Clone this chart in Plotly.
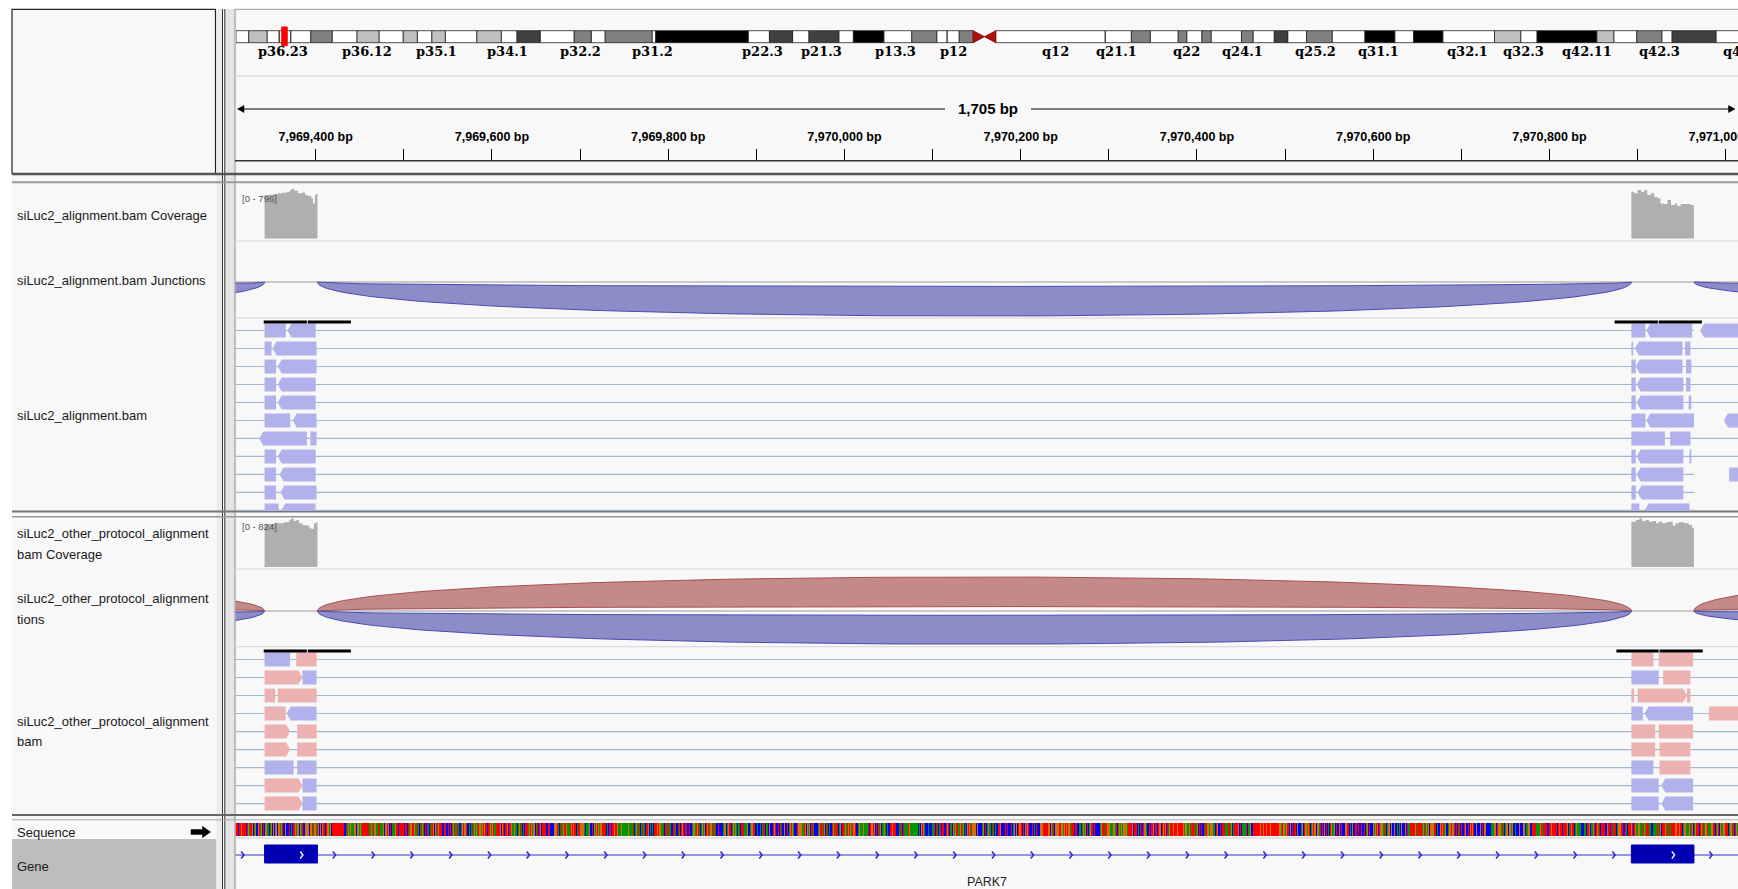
import numpy as np
import plotly.graph_objects as go

W, H = 1738, 889

# ------------------------------------------------------------------ data
VIEW_START = 7969309
VIEW_END = 7971014

BAND_EDGES_MB = [0, 2.1, 5.1, 7.1, 9.0, 12.3, 15.8, 19.9, 23.5, 27.5,
                 29.8, 32.2, 34.4, 39.6, 43.6, 46.2, 50.0, 55.6, 58.4, 60.7,
                 68.4, 69.0, 84.2, 87.7, 91.5, 94.2, 99.1, 101.5, 106.5, 111.1,
                 115.2, 116.9, 118.9, 121.2, 124.9, 142.9, 147.2, 150.3, 154.9, 156.3,
                 158.8, 160.3, 165.3, 167.2, 170.7, 172.9, 176.0, 180.2, 185.6, 190.5,
                 193.6, 198.4, 206.9, 211.2, 213.9, 223.7, 226.5, 230.3, 234.4, 236.1,
                 243.3, 248.9]
BAND_STAINS = ["gneg", "gpos25", "gneg", "gneg", "gneg", "gpos50", "gneg", "gpos25", "gneg", "gpos25",
               "gneg", "gpos25", "gneg", "gpos25", "gneg", "gpos75", "gneg", "gpos50", "gneg", "gpos50",
               "gneg", "gpos100", "gneg", "gpos75", "gneg", "gpos75", "gneg", "gpos100", "gneg", "gpos50",
               "gneg", "gneg", "gpos50", "acen", "gneg", "gneg", "gpos50", "gneg", "gpos50", "gneg",
               "gpos50", "gneg", "gpos50", "gneg", "gpos75", "gneg", "gpos50", "gneg", "gpos100", "gneg",
               "gpos100", "gneg", "gpos25", "gneg", "gpos100", "gpos25", "gneg", "gpos50", "gneg", "gpos75",
               "gneg"]
BAND_LABELS = ["p36.23", "p36.12", "p35.1", "p34.1", "p32.2", "p31.2", "p22.3", "p21.3", "p13.3", "p12",
               "q12", "q21.1", "q22", "q24.1", "q25.2", "q31.1", "q32.1", "q32.3", "q42.11", "q42.3", "q44"]
BAND_LABEL_MB = [7.8, 21.5, 32.9, 44.7, 56.7, 68.5, 86.6, 96.2, 108.5, 118.0,
                 134.7, 144.8, 156.3, 165.5, 177.5, 187.8, 202.5, 211.7, 222.1, 234.1, 246.6]

# coverage tracks (position, depth); each value holds until next position
COV1_MAX = 796
COV1_LEFT_POS = [7969342, 7969347, 7969352, 7969357, 7969362, 7969367, 7969371, 7969373, 7969376,
                 7969380, 7969384, 7969388, 7969391, 7969395, 7969397, 7969399, 7969401, 7969402]
COV1_LEFT_VAL = [695, 700, 711, 722, 732, 748, 775, 796, 764, 722, 737, 695, 679, 642, 562, 695, 722, 722]
COV1_RIGHT_POS = [7970893, 7970896, 7970900, 7970904, 7970908, 7970911, 7970915, 7970919, 7970923,
                  7970926, 7970930, 7970934, 7970938, 7970942, 7970945, 7970949, 7970955, 7970960, 7970964]
COV1_RIGHT_VAL = [748, 722, 775, 748, 775, 695, 722, 658, 642, 562, 552, 615, 536, 562, 520, 552, 552, 536, 536]

COV2_MAX = 824
COV2_LEFT_POS = [7969342, 7969347, 7969353, 7969359, 7969364, 7969370, 7969372, 7969375, 7969378,
                 7969381, 7969385, 7969389, 7969393, 7969395, 7969398, 7969401, 7969402]
COV2_LEFT_VAL = [722, 722, 739, 739, 756, 796, 824, 779, 796, 739, 711, 700, 655, 643, 739, 767, 767]
COV2_RIGHT_POS = [7970893, 7970898, 7970902, 7970905, 7970909, 7970913, 7970917, 7970921, 7970924,
                  7970928, 7970932, 7970936, 7970940, 7970943, 7970947, 7970953, 7970958, 7970962, 7970964]
COV2_RIGHT_VAL = [767, 796, 824, 779, 796, 767, 779, 739, 767, 739, 756, 767, 700, 739, 756, 739, 711, 655, 655]

# splice junctions: (start, end, strand, depth)
JUNC1 = [(7968400, 7969342, "-", 600), (7969402, 7970893, "-", 760), (7970964, 7972600, "-", 590)]
JUNC2 = [(7968400, 7969342, "+", 300), (7968400, 7969342, "-", 290),
         (7969402, 7970893, "+", 410), (7969402, 7970893, "-", 400),
         (7970964, 7971900, "+", 390), (7970964, 7972600, "-", 280)]

# alignments: one list per row of (start, end, code) ; code = colour letter + optional arrow
ALN1_ROWS = [
    [(7969342, 7969366, "b"), (7969368, 7969400, "b<"), (7970893, 7970909, "b"), (7970910, 7970962, "b<"), (7970971, 7971040, "b<")],
    [(7969342, 7969350, "b"), (7969351, 7969401, "b<"), (7970893, 7970895, "b"), (7970897, 7970951, "b<"), (7970954, 7970960, "b")],
    [(7969342, 7969355, "b"), (7969357, 7969401, "b<"), (7970893, 7970898, "b"), (7970898, 7970951, "b<"), (7970955, 7970961, "b")],
    [(7969342, 7969355, "b"), (7969357, 7969400, "b<"), (7970893, 7970898, "b"), (7970899, 7970952, "b<"), (7970955, 7970960, "b")],
    [(7969342, 7969355, "b"), (7969357, 7969400, "b<"), (7970893, 7970898, "b"), (7970899, 7970952, "b<"), (7970958, 7970961, "b")],
    [(7969342, 7969371, "b"), (7969374, 7969401, "b<"), (7970893, 7970909, "b"), (7970910, 7970964, "b<"), (7970998, 7971040, "b<")],
    [(7969336, 7969390, "b<"), (7969394, 7969401, "b"), (7970893, 7970931, "b"), (7970937, 7970960, "b")],
    [(7969342, 7969355, "b"), (7969357, 7969400, "b<"), (7970893, 7970898, "b"), (7970899, 7970952, "b<"), (7970959, 7970961, "b")],
    [(7969342, 7969355, "b"), (7969359, 7969400, "b<"), (7970893, 7970898, "b"), (7970899, 7970952, "b<"), (7971004, 7971040, "b")],
    [(7969342, 7969355, "b"), (7969360, 7969401, "b<"), (7970893, 7970898, "b"), (7970900, 7970952, "b<")],
    [(7969342, 7969358, "b"), (7969361, 7969400, "b<"), (7970893, 7970902, "b"), (7970908, 7970959, "b<")],
]
ALN1_LINES = [(7969250, 7970964), (7969250, 7971040), (7969250, 7971040), (7969250, 7971040),
              (7969250, 7971040), (7969250, 7970964), (7969250, 7971040), (7969250, 7971040),
              (7969250, 7970964), (7969250, 7970964), (7969250, 7970964)]

ALN2_ROWS = [
    [(7969342, 7969371, "b"), (7969378, 7969401, "p"), (7970893, 7970918, "p"), (7970924, 7970963, "p")],
    [(7969342, 7969385, "p>"), (7969385, 7969401, "b"), (7970893, 7970924, "b"), (7970929, 7970960, "p")],
    [(7969342, 7969354, "p"), (7969357, 7969401, "p"), (7970893, 7970896, "p"), (7970900, 7970956, "p>"), (7970956, 7970960, "p")],
    [(7969342, 7969366, "p"), (7969367, 7969401, "b<"), (7970893, 7970906, "b"), (7970908, 7970963, "b<"), (7970981, 7971040, "p")],
    [(7969342, 7969371, "p>"), (7969379, 7969401, "p"), (7970893, 7970920, "p"), (7970924, 7970963, "p")],
    [(7969342, 7969371, "p>"), (7969379, 7969401, "p"), (7970893, 7970920, "p"), (7970925, 7970960, "p")],
    [(7969342, 7969375, "b"), (7969379, 7969401, "b"), (7970893, 7970918, "b"), (7970925, 7970960, "p")],
    [(7969342, 7969385, "p>"), (7969385, 7969401, "b"), (7970893, 7970924, "b"), (7970927, 7970963, "b<")],
    [(7969342, 7969385, "p>"), (7969385, 7969401, "b"), (7970893, 7970924, "b"), (7970927, 7970963, "b<")],
]
ALN2_LINES = [(7969250, 7971040)] * 9

DOWNSAMPLED1 = [(7969341, 7969390), (7969391, 7969440), (7970874, 7970923), (7970924, 7970973)]
DOWNSAMPLED2 = [(7969341, 7969390), (7969391, 7969440), (7970876, 7970924), (7970925, 7970974)]

GENE_NAME = "PARK7"
GENE_EXONS = [(7969342, 7969402), (7970893, 7970964)]

SEQ_START = 7969309
SEQ_CHUNKS = [
    "TTTCTTGTCT TTCTGACTTG CAGCCGGTAG CTCCGGAACA GCTGCGGCGG AAGTCCGCTC CTCACTTTGA GGCGAGTCCG GGGCGGGTAG GAATGCGCGT",
    "TTCTGGAGCT TTTTTTTTTT TTTCCTTAGA GAAAGGGCGG AGGATTTTTT TTAAGATGGA AATTAAAGCC GGTGCTTCAA AGTTCGTTTT TCTTTCTAGG",
    "TCTGAATACA TTGACTCTTA CTATGCGTAT GTTTCCCTTC CTCCTCAGTA ATAACCAGTG TGTCCACATG AGAGATGAGA GTGTTCCTTG AGTACATTTT",
    "GCAGTCTTGC TCTGAAGAAT CAGTACACTT TTAGTGCAGG CATCTTGCTT TTCTCTTCCC CAGGGTACTA CAGTTGAAGA TGTGTTACAT TGGGGAACAA",
    "AGCACTCGAG TGTAGGTTTT CCACTTCTCT GTTGAAATGA AAAAAGGAAA ATCAGGATAC ATGAACTTGC ACCACTTTGG TGGAAACATA TTAACCTTTA",
    "CCTAGCTGTC TTCCCTCCAG GGATGTACAA GAGCTGTAGG GTAATCACTC CCCAGGGCAG TTCCAGAGAC ACACTTTAAA TGCCAGGTTT CCACCACAAT",
    "TCAACAGCCC TGTCTCTCAT CCAGCCTCAG ATGACCCTGC GGGAATGTCG AGCTTAGCCC CAGTGTATGC ATGCACCTGT ATTTCAGCTG TAGATGTGGA",
    "TGGTCCCAGA AAGACAAATC TGGCTGCTCA TAGCAAGACA ACCTTGTTAT CCCATACCTA AAATGAAAAA AAAAACACGT GAGCCCACCC TAATCTACAA",
    "TCTTCCTGGT CAACGTAGTT AAGTCAGCAC GTGGATGGGG CCGCCCCAGG CTCAGAAGCT ACACCTATGC CCCTCCTCCC TCATGCGCTG GCTCTCGTGG",
    "TCCCTCACAT CCCGGGGTTT TTGGCTGATC GGGAGTTGGA GTTGTGGATT CTCTTCCACA CAGAGCTGCA GTTCTTCCCC CAGTTTTATG GGAAAAGGAT",
    "GCAGAGAGGC GGATTTTTGC TTTCACCTCC TGGAGCCTCT TGCCTTCTGG CCTGTGCTAG GTTTGTTTTG TTTTTGAAGG AAGTATTTAT AGCATCTCCT",
    "AGTGGAGGGA AACTGCCTGC TTTAAATATA GCATTATTGC TCATAAATCA AGGCCTTTTT GTTGTTGTTG GTTTGTTTTT TTTTGAGATG GAGTCTCGCT",
    "CTGTCGCCCA GGCTGGAGTG CAGTGGCGCG ATCTCGGCTC ACTGCAAGCT CCGCCTCCCG GGTTCACGCC ATTCTCCTGC CTCAGCCTCC CGAGTAGCTG",
    "GGACTACAGG CGCCCGCCAC CACGCCCGGC TAATTTTTTG TATTTTTAGT AGAGACGGGG TTTCACCGTG TTAGCCAGGA TGGTCTCGAT CTCCTGACCT",
    "CGTGATCCGC CCGCCTCGGC CTCCCAAAGT GCTGGGATTA CAGGCGTGAG CCACCGCGCC CGGCCAAGGC CTTTTTAAAA AGTATTTTAC CTTGTTTGTT",
    "CTGTTTCTTT TGCAGTGTTC AGGAAAACCC TAACTTGCAG AGTCTGATTC TTTTCCCGTT CTTACTTCAG GGCTTCCTAC TCTTGTCTGT AAGGAAATTG",
    "ATTTAATCCA AAATGATGCT TTGAATATAT TTTTGGTTGT TTCAGGAAAA GTAGCAGTTT TCTGAGTAGG TAACAGGTTC AGCTCGAAGG TTTTCAGGTA",
    "ACTGATTTGC CAGGTTTACC TTGCTAGGGG TTAGTGTAGA TGTCTGTGTT TTTTGTGGAG GTCAGTTGTC CCCAGCTGTT TCAGCAGCCT CAGTAGATAA",
]

TRACK_NAMES = [
    ("siLuc2_alignment.bam Coverage", 215.7),
    ("siLuc2_alignment.bam Junctions", 280.0),
    ("siLuc2_alignment.bam", 416.0),
    ("siLuc2_other_protocol_alignment", 533.0),
    ("bam Coverage", 554.3),
    ("siLuc2_other_protocol_alignment", 598.3),
    ("tions", 619.0),
    ("siLuc2_other_protocol_alignment", 721.0),
    ("bam", 741.7),
    ("Sequence", 832.0),
    ("Gene", 866.0),
]

# ------------------------------------------------------------------ helpers
def px(x):
    return x / W


def py(y):
    return 1 - y / H


def dom(top, bot):
    return [1 - bot / H, 1 - top / H]


READ_COL = {"b": "rgb(177,177,236)", "p": "rgb(236,177,177)"}
STAIN_COL = {"gneg": "#ffffff", "gpos25": "#c0c0c0", "gpos50": "#808080",
             "gpos75": "#404040", "gpos100": "#000000"}
SANS = "Liberation Sans, Arial, sans-serif"

fig = go.Figure()

# ------------------------------------------------------------------ ideogram (x3 / y9)
IDEO_TOP, IDEO_BOT = 5.7, 17.7
for stain, col in STAIN_COL.items():
    xs, ys = [], []
    for s, e, st in zip(BAND_EDGES_MB[:-1], BAND_EDGES_MB[1:], BAND_STAINS):
        if st == stain:
            xs += [s, e, e, s, s, None]
            ys += [IDEO_TOP, IDEO_TOP, IDEO_BOT, IDEO_BOT, IDEO_TOP, None]
    fig.add_trace(go.Scatter(x=xs, y=ys, xaxis="x3", yaxis="y9", mode="lines", fill="toself",
                             fillcolor=col, line=dict(color="#222222", width=0.8), hoverinfo="skip"))
cx, cy = [], []
for s, e, st in zip(BAND_EDGES_MB[:-1], BAND_EDGES_MB[1:], BAND_STAINS):
    if st == "acen":
        m = (s + e) / 2
        mid = (IDEO_TOP + IDEO_BOT) / 2
        cx += [s, s, m, s, None, e, e, m, e, None]
        cy += [IDEO_TOP, IDEO_BOT, mid, IDEO_TOP, None, IDEO_TOP, IDEO_BOT, mid, IDEO_TOP, None]
fig.add_trace(go.Scatter(x=cx, y=cy, xaxis="x3", yaxis="y9", mode="lines", fill="toself",
                         fillcolor="#b00d0d", line=dict(color="#8a0000", width=0.8), hoverinfo="skip"))
locus_mb = (VIEW_START + VIEW_END) / 2 / 1e6
fig.add_trace(go.Scatter(x=[locus_mb - 0.45, locus_mb + 0.45, locus_mb + 0.45, locus_mb - 0.45, locus_mb - 0.45],
                         y=[2, 2, 20.7, 20.7, 2], xaxis="x3", yaxis="y9", mode="lines", fill="toself",
                         fillcolor="#ff0000", line=dict(color="#ff0000", width=1), hoverinfo="skip"))

# ------------------------------------------------------------------ ruler dummy (x2 / y10)
fig.add_trace(go.Scatter(x=[VIEW_START], y=[0], xaxis="x2", yaxis="y10", mode="markers",
                         marker=dict(opacity=0), hoverinfo="skip"))


# ------------------------------------------------------------------ coverage
def cov_trace(pos, val, yaxis):
    xs, ys = [pos[0]], [0]
    for i in range(len(pos) - 1):
        xs += [pos[i], pos[i + 1]]
        ys += [val[i], val[i]]
    xs += [pos[-1], pos[0]]
    ys += [0, 0]
    return go.Scatter(x=xs, y=ys, xaxis="x", yaxis=yaxis, mode="lines", fill="toself",
                      fillcolor="rgb(175,175,175)", line=dict(width=0), hoverinfo="skip")


fig.add_trace(cov_trace(COV1_LEFT_POS, COV1_LEFT_VAL, "y"))
fig.add_trace(cov_trace(COV1_RIGHT_POS, COV1_RIGHT_VAL, "y"))
fig.add_trace(cov_trace(COV2_LEFT_POS, COV2_LEFT_VAL, "y4"))
fig.add_trace(cov_trace(COV2_RIGHT_POS, COV2_RIGHT_VAL, "y4"))


# ------------------------------------------------------------------ junctions
def add_junctions(juncs, yaxis, full_h=34.0, inner_frac=0.13):
    dmax = max(j[3] for j in juncs)
    for s, e, strand, depth in juncs:
        hgt = full_h * depth / dmax
        t = np.linspace(0, 1, 120)
        xs = s + (e - s) * (3 * t ** 2 - 2 * t ** 3)
        prof = 4 * t * (1 - t)
        sign = 1 if strand == "+" else -1
        outer = sign * hgt * prof
        inner = sign * hgt * inner_frac * prof
        x = np.concatenate([xs, xs[::-1]])
        y = np.concatenate([outer, inner[::-1]])
        if strand == "+":
            fc, lc = "rgb(196,138,138)", "rgb(165,80,80)"
        else:
            fc, lc = "rgb(140,140,200)", "rgb(75,75,175)"
        fig.add_trace(go.Scatter(x=x, y=y, xaxis="x", yaxis=yaxis, mode="lines", fill="toself",
                                 fillcolor=fc, line=dict(color=lc, width=1), hoverinfo="skip"))


add_junctions(JUNC1, "y2")
add_junctions(JUNC2, "y5")


# ------------------------------------------------------------------ alignments
def block_poly(s, e, row, arrow, half=0.39, aw=4.5):
    top, bot = row - half, row + half
    if arrow == "<":
        return [s, s + aw, e, e, s + aw, s], [row, top, top, bot, bot, row]
    if arrow == ">":
        return [s, e - aw, e, e - aw, s, s], [top, top, row, bot, bot, top]
    return [s, e, e, s, s], [top, top, bot, bot, top]


def add_alignments(rows, lines, downs, yaxis):
    lx, ly = [], []
    for r, (a, b) in enumerate(lines):
        lx += [a, b, None]
        ly += [r, r, None]
    fig.add_trace(go.Scatter(x=lx, y=ly, xaxis="x", yaxis=yaxis, mode="lines",
                             line=dict(color="#a3b8cd", width=1.2), hoverinfo="skip"))
    for key, col in READ_COL.items():
        xs, ys = [], []
        for r, blocks in enumerate(rows):
            for s, e, code in blocks:
                if code[0] != key:
                    continue
                bx, by = block_poly(s, e, r, code[1:])
                xs += bx + [None]
                ys += by + [None]
        if xs:
            fig.add_trace(go.Scatter(x=xs, y=ys, xaxis="x", yaxis=yaxis, mode="lines", fill="toself",
                                     fillcolor=col, line=dict(width=0), hoverinfo="skip"))
    dx, dy = [], []
    for s, e in downs:
        dx += [s, e, None]
        dy += [-0.47, -0.47, None]
    fig.add_trace(go.Scatter(x=dx, y=dy, xaxis="x", yaxis=yaxis, mode="lines",
                             line=dict(color="black", width=3), hoverinfo="skip"))


add_alignments(ALN1_ROWS, ALN1_LINES, DOWNSAMPLED1, "y3")
add_alignments(ALN2_ROWS, ALN2_LINES, DOWNSAMPLED2, "y6")

# ------------------------------------------------------------------ sequence
seq = "".join("".join(c.split()) for c in SEQ_CHUNKS)
code = {"A": 0, "C": 1, "G": 2, "T": 3}
fig.add_trace(go.Heatmap(
    z=[[code[b] for b in seq]], x=[SEQ_START + i + 0.5 for i in range(len(seq))], y=[0],
    xaxis="x", yaxis="y7", zmin=0, zmax=3, showscale=False, hoverinfo="skip",
    colorscale=[[0, "rgb(0,150,0)"], [0.25, "rgb(0,150,0)"], [0.25, "rgb(0,0,255)"], [0.5, "rgb(0,0,255)"],
                [0.5, "rgb(209,113,5)"], [0.75, "rgb(209,113,5)"], [0.75, "rgb(255,0,0)"], [1, "rgb(255,0,0)"]]))

# ------------------------------------------------------------------ gene
GENE_COL = "rgb(0,0,178)"
fig.add_trace(go.Scatter(x=[VIEW_START - 50, VIEW_END + 50], y=[0, 0], xaxis="x", yaxis="y8", mode="lines",
                         line=dict(color="rgb(50,50,200)", width=1.2), hoverinfo="skip"))
chev = []
first_s = GENE_EXONS[0][0]
p = first_s - 25
while p > VIEW_START - 50:
    chev.append(p)
    p -= 44
for (s0, e0), (s1, e1) in zip(GENE_EXONS[:-1], GENE_EXONS[1:]):
    p = e0 + 19
    while p < s1 - 5:
        chev.append(p)
        p += 44
p = GENE_EXONS[-1][1] + 19
while p < VIEW_END + 50:
    chev.append(p)
    p += 44
chx, chy = [], []
for c in chev:
    chx += [c - 1.6, c + 1.6, c - 1.6, None]
    chy += [3.5, 0, -3.5, None]
fig.add_trace(go.Scatter(x=chx, y=chy, xaxis="x", yaxis="y8", mode="lines",
                         line=dict(color="rgb(40,40,210)", width=1.5), hoverinfo="skip"))
ex, ey = [], []
for s, e in GENE_EXONS:
    ex += [s, e, e, s, s, None]
    ey += [10, 10, -8, -8, 10, None]
fig.add_trace(go.Scatter(x=ex, y=ey, xaxis="x", yaxis="y8", mode="lines", fill="toself",
                         fillcolor=GENE_COL, line=dict(color=GENE_COL, width=1), hoverinfo="skip"))
wx, wy = [], []
for s, e in GENE_EXONS:
    c = (s + e) / 2 + 12
    wx += [c - 1.6, c + 1.6, c - 1.6, None]
    wy += [3.5, 0, -3.5, None]
fig.add_trace(go.Scatter(x=wx, y=wy, xaxis="x", yaxis="y8", mode="lines",
                         line=dict(color="white", width=1.3), hoverinfo="skip"))

# ------------------------------------------------------------------ frame shapes
shapes = []


def rect(x0, y0, x1, y1, fill, lc=None, lw=0):
    shapes.append(dict(type="rect", xref="paper", yref="paper", x0=px(x0), x1=px(x1), y0=py(y1), y1=py(y0),
                       fillcolor=fill, line=dict(color=lc or fill, width=lw), layer="below"))


def hline(y, x0, x1, col, w=1):
    shapes.append(dict(type="line", xref="paper", yref="paper", x0=px(x0), x1=px(x1), y0=py(y), y1=py(y),
                       line=dict(color=col, width=w), layer="below"))


def vline(x, y0, y1, col, w=1):
    shapes.append(dict(type="line", xref="paper", yref="paper", x0=px(x), x1=px(x), y0=py(y0), y1=py(y1),
                       line=dict(color=col, width=w), layer="below"))


rect(12, 9, 1738, 889, "#f8f8f8")
rect(12, 9.3, 215.5, 173.5, "#f9f9f9", "#222222", 1.2)
rect(12, 839, 216.5, 889, "#bdbdbd")
rect(216.5, 9, 222, 889, "#ececec")
rect(225, 9, 234.5, 889, "#e4e4e4")
vline(222.5, 9, 889, "#333333", 1)
vline(224.8, 9, 889, "#333333", 1)
vline(235, 9, 889, "#8a8a8a", 1)
hline(9.3, 235, 1738, "#999999", 1)
hline(76, 235, 1738, "#d0d0d0", 1)
hline(160.7, 235, 1738, "#333333", 1.5)
hline(174, 12, 1738, "#555555", 2.5)
hline(182.3, 12, 1738, "#9a9a9a", 2)
for yy in (241, 318, 569, 646.7):
    hline(yy, 235, 1738, "#d4d4dc", 1)
for yy in (282, 611):
    hline(yy, 235, 1738, "#9a9a9a", 1)
hline(511.5, 12, 1738, "#777777", 2)
hline(516.7, 12, 1738, "#999999", 1.5)
hline(815, 12, 1738, "#666666", 2)
hline(819.8, 12, 1738, "#aaaaaa", 1)
hline(838, 235, 1738, "#cccccc", 1)

# ruler line with arrowheads
hline(109, 243, 945, "black", 1)
hline(109, 1031, 1731, "black", 1)


def path(pts):
    d = "M " + " L ".join(f"{px(x):.6f},{py(y):.6f}" for x, y in pts) + " Z"
    shapes.append(dict(type="path", xref="paper", yref="paper", path=d, fillcolor="black",
                       line=dict(color="black", width=0.5), layer="above"))


path([(237.5, 109), (244, 105.5), (244, 112.5)])
path([(1735, 109), (1728.5, 105.5), (1728.5, 112.5)])
path([(191, 829.6), (202.5, 829.6), (202.5, 826.3), (210.5, 832), (202.5, 837.7), (202.5, 834.4), (191, 834.4)])

# ------------------------------------------------------------------ annotations
ann = []
for lab, mb in zip(BAND_LABELS, BAND_LABEL_MB):
    ann.append(dict(x=mb, y=py(51.7), xref="x3", yref="paper", text=lab, showarrow=False,
                    xanchor="center", yanchor="middle",
                    font=dict(family="DejaVu Serif, serif", size=13, color="black", weight="bold")))
span = VIEW_END - VIEW_START
ann.append(dict(x=px(988), y=py(109), xref="paper", yref="paper", text=f"{span:,} bp", showarrow=False,
                xanchor="center", yanchor="middle",
                font=dict(family=SANS, size=15, color="black", weight="bold")))
ann.append(dict(x=px(240), y=py(198), xref="paper", yref="paper", text=f"[0 - {COV1_MAX}]", showarrow=False,
                xanchor="left", yanchor="middle", font=dict(family=SANS, size=9.5, color="#555555")))
ann.append(dict(x=px(240), y=py(526.7), xref="paper", yref="paper", text=f"[0 - {COV2_MAX}]", showarrow=False,
                xanchor="left", yanchor="middle", font=dict(family=SANS, size=9.5, color="#555555")))
for txt, yy in TRACK_NAMES:
    ann.append(dict(x=px(15), y=py(yy), xref="paper", yref="paper", text=txt, showarrow=False,
                    xanchor="left", yanchor="middle", font=dict(family=SANS, size=13, color="#1a1a1a")))
ann.append(dict(x=(VIEW_START + VIEW_END) / 2, y=-27, xref="x", yref="y8", text=GENE_NAME, showarrow=False,
                xanchor="center", yanchor="middle", font=dict(family=SANS, size=12.5, color="#222222")))

# ------------------------------------------------------------------ layout
X0 = 235.5 / W
hidden = dict(visible=False, fixedrange=True, showgrid=False, zeroline=False, automargin=False)
fig.update_layout(
    width=W, height=H, margin=dict(l=0, r=0, t=0, b=0, pad=0, autoexpand=False), autosize=False,
    paper_bgcolor="white", plot_bgcolor="rgba(0,0,0,0)", showlegend=False,
    shapes=shapes, annotations=ann,
    xaxis=dict(domain=[X0, 1], range=[VIEW_START, VIEW_END], anchor="y", **hidden),
    xaxis2=dict(domain=[X0, 1], range=[VIEW_START, VIEW_END], anchor="free", position=py(159.7), side="top",
                visible=True, showgrid=False, zeroline=False, showline=False, fixedrange=True, automargin=False,
                ticks="outside", ticklen=11, tickwidth=1, tickcolor="black",
                tick0=0, dtick=200, tickformat=",d", ticksuffix=" bp", ticklabelstandoff=3,
                ticklabeloverflow="allow",
                tickfont=dict(family=SANS, size=12.5, color="black", weight="bold"),
                minor=dict(dtick=100, tick0=0, ticks="outside", ticklen=11, tickwidth=1, tickcolor="black")),
    xaxis3=dict(domain=[236 / W, 1], range=[0, (W - 236) * 0.1644], anchor="y9", **hidden),
    yaxis=dict(domain=dom(188.7, 238.7), range=[0, COV1_MAX], anchor="x", **hidden),
    yaxis2=dict(domain=dom(241, 318), range=[-36, 41], anchor="x", **hidden),
    yaxis3=dict(domain=dom(318, 511), range=[10.03, -0.694], anchor="x", **hidden),
    yaxis4=dict(domain=dom(518.3, 567), range=[0, COV2_MAX], anchor="x", **hidden),
    yaxis5=dict(domain=dom(569, 646.7), range=[-35.7, 42], anchor="x", **hidden),
    yaxis6=dict(domain=dom(646.7, 814), range=[8.58, -0.711], anchor="x", **hidden),
    yaxis7=dict(domain=dom(823, 836), range=[-0.5, 0.5], anchor="x", **hidden),
    yaxis8=dict(domain=dom(839, 889), range=[-34, 16], anchor="x", **hidden),
    yaxis9=dict(domain=dom(25, 47), range=[22, 0], anchor="x3", **hidden),
    yaxis10=dict(domain=dom(150, 159), range=[-1, 1], anchor="x2", **hidden),
)

fig.write_html("out.html", config={"displayModeBar": False},
               post_script="document.body.style.margin='0';document.body.style.overflow='hidden';")
